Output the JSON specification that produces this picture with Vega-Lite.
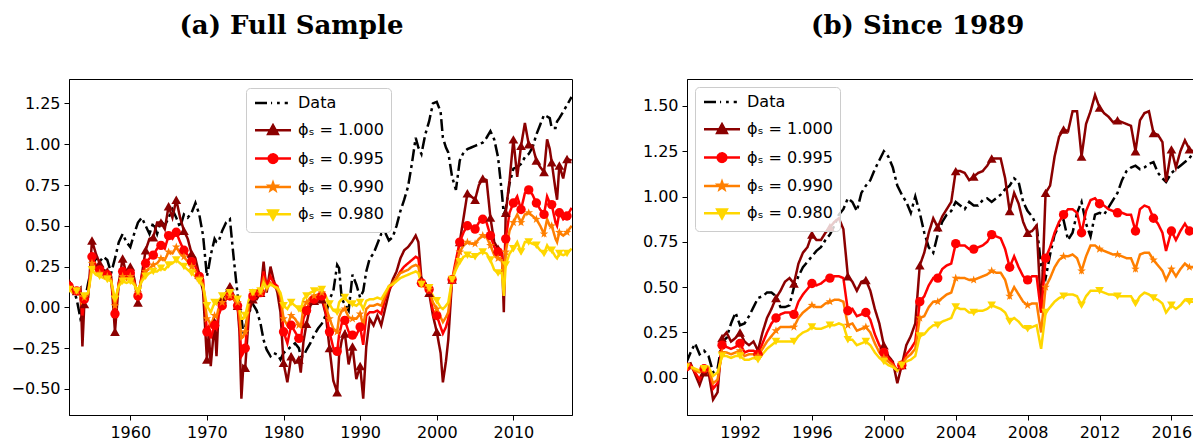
{
  "$schema": "https://vega.github.io/schema/vega-lite/v6.json",
  "padding": {"left": 10, "top": 12, "right": 0, "bottom": 0},
  "background": "white",
  "config": {
    "font": "DejaVu Sans",
    "view": {"stroke": "black", "strokeWidth": 1},
    "axis": {"labelFont": "DejaVu Sans", "labelFontSize": 16, "labelColor": "black", "tickColor": "black", "domainColor": "black", "tickSize": 5, "labelPadding": 4, "grid": false, "domainWidth": 1, "tickWidth": 1, "title": null},
    "title": {"font": "DejaVu Serif", "fontSize": 26, "fontWeight": "bold", "offset": 40, "anchor": "middle", "frame": "bounds", "color": "black"},
    "legend": {"labelFont": "DejaVu Sans", "labelFontSize": 16, "labelColor": "black", "strokeColor": "#cccccc", "fillColor": "rgba(255,255,255,0.8)", "padding": 7, "cornerRadius": 4, "symbolSize": 81, "symbolStrokeWidth": 2, "symbolOffset": 12, "labelOffset": 17, "rowPadding": 9.3, "title": null},
    "concat": {"spacing": 68}
  },
  "datasets": {
    "full": [
      {"t":1952,"d":0.16,"a":0.15,"b":0.13,"c":0.12,"e":0.11},
      {"t":1952.5,"d":0.12,"a":0.10,"b":0.09,"c":0.09,"e":0.09},
      {"t":1953,"d":0.05,"a":0.10,"b":0.10,"c":0.10,"e":0.10},
      {"t":1953.5,"d":-0.07,"a":0.12,"b":0.08,"c":0.07,"e":0.08},
      {"t":1953.75,"d":-0.05,"a":-0.24,"b":-0.05,"c":0.0,"e":0.05},
      {"t":1954,"d":0.02,"a":0.02,"b":0.05,"c":0.06,"e":0.07},
      {"t":1954.5,"d":0.15,"a":0.06,"b":0.08,"c":0.08,"e":0.09},
      {"t":1955,"d":0.25,"a":0.41,"b":0.31,"c":0.27,"e":0.23},
      {"t":1955.5,"d":0.30,"a":0.33,"b":0.26,"c":0.23,"e":0.20},
      {"t":1956,"d":0.28,"a":0.27,"b":0.23,"c":0.21,"e":0.19},
      {"t":1956.5,"d":0.31,"a":0.23,"b":0.21,"c":0.20,"e":0.18},
      {"t":1957,"d":0.29,"a":0.22,"b":0.20,"c":0.19,"e":0.17},
      {"t":1957.5,"d":0.21,"a":0.19,"b":0.17,"c":0.17,"e":0.16},
      {"t":1958,"d":0.30,"a":-0.15,"b":-0.04,"c":0.01,"e":0.05},
      {"t":1958.5,"d":0.40,"a":0.15,"b":0.15,"c":0.14,"e":0.13},
      {"t":1959,"d":0.45,"a":0.30,"b":0.22,"c":0.19,"e":0.16},
      {"t":1959.5,"d":0.40,"a":0.20,"b":0.18,"c":0.17,"e":0.15},
      {"t":1960,"d":0.37,"a":0.25,"b":0.21,"c":0.19,"e":0.16},
      {"t":1960.5,"d":0.45,"a":0.18,"b":0.16,"c":0.15,"e":0.14},
      {"t":1961,"d":0.52,"a":0.03,"b":0.07,"c":0.09,"e":0.10},
      {"t":1961.5,"d":0.55,"a":0.20,"b":0.19,"c":0.17,"e":0.16},
      {"t":1962,"d":0.50,"a":0.35,"b":0.27,"c":0.22,"e":0.19},
      {"t":1962.5,"d":0.45,"a":0.42,"b":0.30,"c":0.24,"e":0.21},
      {"t":1963,"d":0.52,"a":0.43,"b":0.32,"c":0.26,"e":0.22},
      {"t":1963.5,"d":0.45,"a":0.52,"b":0.36,"c":0.27,"e":0.22},
      {"t":1964,"d":0.53,"a":0.52,"b":0.38,"c":0.30,"e":0.24},
      {"t":1964.5,"d":0.50,"a":0.48,"b":0.36,"c":0.29,"e":0.23},
      {"t":1965,"d":0.55,"a":0.62,"b":0.44,"c":0.34,"e":0.26},
      {"t":1965.5,"d":0.60,"a":0.55,"b":0.42,"c":0.33,"e":0.27},
      {"t":1966,"d":0.55,"a":0.66,"b":0.46,"c":0.37,"e":0.29},
      {"t":1966.5,"d":0.49,"a":0.55,"b":0.40,"c":0.33,"e":0.27},
      {"t":1967,"d":0.57,"a":0.47,"b":0.35,"c":0.31,"e":0.25},
      {"t":1967.5,"d":0.55,"a":0.42,"b":0.32,"c":0.28,"e":0.23},
      {"t":1968,"d":0.58,"a":0.33,"b":0.28,"c":0.25,"e":0.21},
      {"t":1968.5,"d":0.64,"a":0.30,"b":0.25,"c":0.22,"e":0.19},
      {"t":1969,"d":0.57,"a":0.20,"b":0.19,"c":0.18,"e":0.16},
      {"t":1969.5,"d":0.44,"a":0.10,"b":0.17,"c":0.14,"e":0.13},
      {"t":1970,"d":0.19,"a":-0.32,"b":-0.15,"c":-0.07,"e":0.01},
      {"t":1970.25,"d":0.25,"a":-0.15,"b":-0.12,"c":-0.08,"e":-0.01},
      {"t":1970.5,"d":0.32,"a":-0.36,"b":-0.19,"c":-0.11,"e":-0.03},
      {"t":1971,"d":0.42,"a":-0.09,"b":-0.11,"c":-0.05,"e":0.03},
      {"t":1971.25,"d":0.40,"a":-0.30,"b":-0.13,"c":-0.06,"e":0.02},
      {"t":1971.5,"d":0.40,"a":-0.05,"b":-0.05,"c":-0.01,"e":0.04},
      {"t":1972,"d":0.47,"a":0.05,"b":0.01,"c":0.03,"e":0.07},
      {"t":1972.5,"d":0.52,"a":0.09,"b":0.05,"c":0.06,"e":0.09},
      {"t":1973,"d":0.54,"a":0.13,"b":0.07,"c":0.07,"e":0.09},
      {"t":1973.5,"d":0.30,"a":0.07,"b":0.05,"c":0.05,"e":0.07},
      {"t":1974,"d":0.08,"a":0.01,"b":0.01,"c":0.03,"e":0.05},
      {"t":1974.25,"d":0.0,"a":-0.15,"b":-0.10,"c":-0.05,"e":-0.01},
      {"t":1974.5,"d":-0.06,"a":-0.56,"b":-0.30,"c":-0.19,"e":-0.07},
      {"t":1974.75,"d":-0.16,"a":-0.36,"b":-0.28,"c":-0.18,"e":-0.07},
      {"t":1975,"d":-0.12,"a":-0.37,"b":-0.25,"c":-0.15,"e":-0.05},
      {"t":1975.5,"d":-0.03,"a":-0.03,"b":0.01,"c":0.03,"e":0.05},
      {"t":1976,"d":0.02,"a":0.05,"b":0.07,"c":0.09,"e":0.09},
      {"t":1976.5,"d":-0.02,"a":0.05,"b":0.08,"c":0.09,"e":0.10},
      {"t":1977,"d":-0.10,"a":0.09,"b":0.09,"c":0.09,"e":0.10},
      {"t":1977.4,"d":-0.20,"a":0.28,"b":0.22,"c":0.17,"e":0.15},
      {"t":1977.8,"d":-0.26,"a":0.09,"b":0.13,"c":0.11,"e":0.12},
      {"t":1978.3,"d":-0.30,"a":0.25,"b":0.19,"c":0.15,"e":0.14},
      {"t":1978.7,"d":-0.28,"a":0.17,"b":0.15,"c":0.13,"e":0.13},
      {"t":1979.2,"d":-0.29,"a":0.09,"b":0.13,"c":0.11,"e":0.12},
      {"t":1979.6,"d":-0.32,"a":-0.03,"b":0.05,"c":0.07,"e":0.09},
      {"t":1980,"d":-0.28,"a":-0.34,"b":-0.15,"c":-0.07,"e":0.01},
      {"t":1980.5,"d":-0.26,"a":-0.46,"b":-0.22,"c":-0.11,"e":-0.01},
      {"t":1981,"d":-0.24,"a":-0.30,"b":-0.11,"c":-0.05,"e":0.03},
      {"t":1981.5,"d":-0.22,"a":-0.34,"b":-0.15,"c":-0.07,"e":0.01},
      {"t":1982,"d":-0.25,"a":-0.32,"b":-0.19,"c":-0.11,"e":-0.01},
      {"t":1982.25,"d":-0.30,"a":-0.40,"b":-0.20,"c":-0.12,"e":-0.02},
      {"t":1982.6,"d":-0.30,"a":-0.21,"b":-0.07,"c":0.0,"e":0.05},
      {"t":1983,"d":-0.26,"a":-0.10,"b":-0.02,"c":0.03,"e":0.07},
      {"t":1983.5,"d":-0.22,"a":0.01,"b":0.04,"c":0.06,"e":0.09},
      {"t":1984,"d":-0.17,"a":0.04,"b":0.05,"c":0.07,"e":0.10},
      {"t":1984.5,"d":-0.13,"a":0.05,"b":0.06,"c":0.08,"e":0.11},
      {"t":1985,"d":-0.10,"a":0.05,"b":0.07,"c":0.09,"e":0.11},
      {"t":1985.5,"d":-0.05,"a":-0.04,"b":-0.03,"c":0.01,"e":0.07},
      {"t":1986,"d":0.05,"a":-0.25,"b":-0.15,"c":-0.07,"e":0.02},
      {"t":1986.5,"d":0.10,"a":-0.45,"b":-0.25,"c":-0.13,"e":-0.02},
      {"t":1987,"d":0.26,"a":-0.52,"b":-0.27,"c":-0.15,"e":-0.03},
      {"t":1987.25,"d":0.24,"a":-0.30,"b":-0.17,"c":-0.06,"e":0.03},
      {"t":1987.6,"d":0.05,"a":-0.20,"b":-0.10,"c":-0.02,"e":0.05},
      {"t":1988,"d":0.02,"a":-0.16,"b":-0.08,"c":-0.01,"e":0.06},
      {"t":1988.5,"d":-0.02,"a":-0.35,"b":-0.15,"c":-0.06,"e":0.03},
      {"t":1989,"d":0.20,"a":-0.24,"b":-0.17,"c":-0.07,"e":0.02},
      {"t":1989.5,"d":0.14,"a":-0.44,"b":-0.17,"c":-0.07,"e":0.01},
      {"t":1990,"d":0.06,"a":-0.36,"b":-0.12,"c":-0.04,"e":0.03},
      {"t":1990.4,"d":0.10,"a":-0.56,"b":-0.23,"c":-0.11,"e":-0.01},
      {"t":1990.8,"d":0.22,"a":-0.24,"b":-0.05,"c":-0.01,"e":0.04},
      {"t":1991.25,"d":0.30,"a":-0.07,"b":-0.03,"c":0.01,"e":0.05},
      {"t":1991.75,"d":0.33,"a":-0.11,"b":-0.03,"c":0.01,"e":0.05},
      {"t":1992.25,"d":0.39,"a":-0.05,"b":-0.02,"c":0.02,"e":0.06},
      {"t":1992.75,"d":0.45,"a":-0.11,"b":-0.04,"c":0.01,"e":0.05},
      {"t":1993.25,"d":0.46,"a":-0.01,"b":0.05,"c":0.07,"e":0.09},
      {"t":1993.75,"d":0.41,"a":0.09,"b":0.11,"c":0.13,"e":0.13},
      {"t":1994.25,"d":0.43,"a":0.17,"b":0.14,"c":0.15,"e":0.14},
      {"t":1994.75,"d":0.50,"a":0.22,"b":0.18,"c":0.18,"e":0.16},
      {"t":1995.25,"d":0.59,"a":0.30,"b":0.22,"c":0.21,"e":0.18},
      {"t":1995.75,"d":0.66,"a":0.35,"b":0.25,"c":0.22,"e":0.19},
      {"t":1996.25,"d":0.74,"a":0.37,"b":0.27,"c":0.23,"e":0.20},
      {"t":1996.75,"d":0.88,"a":0.40,"b":0.29,"c":0.25,"e":0.21},
      {"t":1997.25,"d":1.04,"a":0.44,"b":0.31,"c":0.26,"e":0.22},
      {"t":1997.6,"d":0.98,"a":0.40,"b":0.30,"c":0.25,"e":0.21},
      {"t":1998,"d":0.94,"a":0.17,"b":0.15,"c":0.15,"e":0.14},
      {"t":1998.5,"d":1.06,"a":0.15,"b":0.13,"c":0.12,"e":0.13},
      {"t":1999,"d":1.14,"a":0.09,"b":0.11,"c":0.11,"e":0.12},
      {"t":1999.5,"d":1.25,"a":-0.05,"b":-0.02,"c":0.03,"e":0.07},
      {"t":2000,"d":1.26,"a":-0.15,"b":-0.05,"c":-0.01,"e":0.04},
      {"t":2000.5,"d":1.20,"a":-0.28,"b":-0.12,"c":-0.06,"e":0.0},
      {"t":2000.8,"d":1.04,"a":-0.46,"b":-0.16,"c":-0.09,"e":-0.01},
      {"t":2001.2,"d":0.98,"a":-0.33,"b":-0.12,"c":-0.06,"e":0.01},
      {"t":2001.5,"d":0.95,"a":-0.20,"b":-0.07,"c":-0.03,"e":0.03},
      {"t":2002,"d":0.80,"a":0.17,"b":0.17,"c":0.17,"e":0.17},
      {"t":2002.5,"d":0.72,"a":0.25,"b":0.29,"c":0.26,"e":0.23},
      {"t":2003,"d":0.90,"a":0.40,"b":0.40,"c":0.34,"e":0.28},
      {"t":2003.5,"d":0.95,"a":0.55,"b":0.46,"c":0.38,"e":0.31},
      {"t":2004,"d":0.97,"a":0.70,"b":0.50,"c":0.40,"e":0.32},
      {"t":2004.5,"d":0.98,"a":0.68,"b":0.49,"c":0.39,"e":0.31},
      {"t":2005,"d":0.99,"a":0.66,"b":0.48,"c":0.39,"e":0.31},
      {"t":2005.5,"d":1.00,"a":0.75,"b":0.52,"c":0.42,"e":0.33},
      {"t":2006,"d":1.01,"a":0.79,"b":0.54,"c":0.44,"e":0.34},
      {"t":2006.5,"d":1.04,"a":0.78,"b":0.52,"c":0.43,"e":0.33},
      {"t":2007,"d":1.08,"a":0.55,"b":0.44,"c":0.38,"e":0.29},
      {"t":2007.5,"d":1.03,"a":0.40,"b":0.37,"c":0.32,"e":0.23},
      {"t":2008,"d":0.92,"a":0.36,"b":0.34,"c":0.30,"e":0.21},
      {"t":2008.5,"d":0.70,"a":0.33,"b":0.33,"c":0.29,"e":0.21},
      {"t":2008.75,"d":0.57,"a":-0.03,"b":0.07,"c":0.13,"e":0.07},
      {"t":2009,"d":0.60,"a":0.58,"b":0.42,"c":0.34,"e":0.26},
      {"t":2009.5,"d":0.76,"a":0.78,"b":0.58,"c":0.47,"e":0.33},
      {"t":2010,"d":0.85,"a":1.03,"b":0.64,"c":0.52,"e":0.36},
      {"t":2010.5,"d":0.86,"a":0.80,"b":0.68,"c":0.57,"e":0.40},
      {"t":2011,"d":0.88,"a":0.99,"b":0.60,"c":0.52,"e":0.34},
      {"t":2011.5,"d":0.92,"a":1.13,"b":0.70,"c":0.57,"e":0.40},
      {"t":2012,"d":0.94,"a":1.00,"b":0.72,"c":0.58,"e":0.40},
      {"t":2012.5,"d":0.98,"a":0.99,"b":0.69,"c":0.56,"e":0.39},
      {"t":2013,"d":1.06,"a":0.90,"b":0.64,"c":0.54,"e":0.38},
      {"t":2013.5,"d":1.12,"a":0.86,"b":0.60,"c":0.50,"e":0.35},
      {"t":2014,"d":1.18,"a":0.83,"b":0.57,"c":0.45,"e":0.33},
      {"t":2014.4,"d":1.17,"a":1.03,"b":0.68,"c":0.54,"e":0.38},
      {"t":2014.75,"d":1.16,"a":0.97,"b":0.64,"c":0.50,"e":0.35},
      {"t":2015,"d":1.10,"a":0.89,"b":0.63,"c":0.50,"e":0.35},
      {"t":2015.5,"d":1.10,"a":0.72,"b":0.52,"c":0.42,"e":0.31},
      {"t":2015.7,"d":1.14,"a":0.66,"b":0.50,"c":0.40,"e":0.30},
      {"t":2016,"d":1.16,"a":0.87,"b":0.58,"c":0.46,"e":0.33},
      {"t":2016.5,"d":1.20,"a":0.79,"b":0.54,"c":0.44,"e":0.32},
      {"t":2017,"d":1.24,"a":0.91,"b":0.56,"c":0.46,"e":0.33},
      {"t":2017.6,"d":1.29,"a":0.90,"b":0.61,"c":0.50,"e":0.36}
    ],
    "since": [
      {"t":1989,"d":0.08,"a":0.07,"b":0.06,"c":0.06,"e":0.06},
      {"t":1989.25,"d":0.14,"a":0.08,"b":0.07,"c":0.06,"e":0.06},
      {"t":1989.5,"d":0.19,"a":0.02,"b":0.03,"c":0.04,"e":0.05},
      {"t":1989.75,"d":0.13,"a":-0.04,"b":-0.01,"c":0.03,"e":0.04},
      {"t":1990,"d":0.15,"a":0.03,"b":0.05,"c":0.05,"e":0.05},
      {"t":1990.25,"d":0.12,"a":0.03,"b":0.05,"c":0.05,"e":0.06},
      {"t":1990.5,"d":0.03,"a":-0.12,"b":-0.06,"c":-0.03,"e":0.01},
      {"t":1990.75,"d":0.05,"a":-0.08,"b":-0.03,"c":-0.01,"e":0.03},
      {"t":1991,"d":0.20,"a":0.22,"b":0.18,"c":0.14,"e":0.12},
      {"t":1991.25,"d":0.22,"a":0.25,"b":0.17,"c":0.14,"e":0.12},
      {"t":1991.5,"d":0.30,"a":0.20,"b":0.16,"c":0.13,"e":0.11},
      {"t":1991.75,"d":0.36,"a":0.22,"b":0.17,"c":0.14,"e":0.12},
      {"t":1992,"d":0.29,"a":0.25,"b":0.19,"c":0.15,"e":0.12},
      {"t":1992.25,"d":0.30,"a":0.20,"b":0.14,"c":0.12,"e":0.10},
      {"t":1992.5,"d":0.34,"a":0.18,"b":0.15,"c":0.13,"e":0.10},
      {"t":1992.75,"d":0.39,"a":0.20,"b":0.15,"c":0.13,"e":0.11},
      {"t":1993,"d":0.44,"a":0.15,"b":0.13,"c":0.12,"e":0.10},
      {"t":1993.25,"d":0.45,"a":0.25,"b":0.19,"c":0.16,"e":0.13},
      {"t":1993.5,"d":0.47,"a":0.33,"b":0.25,"c":0.20,"e":0.16},
      {"t":1993.75,"d":0.47,"a":0.38,"b":0.30,"c":0.23,"e":0.18},
      {"t":1994,"d":0.45,"a":0.44,"b":0.33,"c":0.26,"e":0.20},
      {"t":1994.25,"d":0.39,"a":0.48,"b":0.35,"c":0.28,"e":0.20},
      {"t":1994.5,"d":0.39,"a":0.53,"b":0.36,"c":0.28,"e":0.20},
      {"t":1994.75,"d":0.40,"a":0.55,"b":0.36,"c":0.28,"e":0.20},
      {"t":1995,"d":0.50,"a":0.52,"b":0.35,"c":0.28,"e":0.20},
      {"t":1995.25,"d":0.56,"a":0.63,"b":0.42,"c":0.33,"e":0.23},
      {"t":1995.5,"d":0.61,"a":0.69,"b":0.46,"c":0.36,"e":0.25},
      {"t":1995.75,"d":0.64,"a":0.72,"b":0.49,"c":0.38,"e":0.26},
      {"t":1996,"d":0.67,"a":0.79,"b":0.52,"c":0.40,"e":0.28},
      {"t":1996.25,"d":0.70,"a":0.76,"b":0.51,"c":0.39,"e":0.27},
      {"t":1996.5,"d":0.72,"a":0.76,"b":0.52,"c":0.39,"e":0.27},
      {"t":1996.75,"d":0.76,"a":0.80,"b":0.54,"c":0.41,"e":0.28},
      {"t":1997,"d":0.79,"a":0.83,"b":0.55,"c":0.42,"e":0.29},
      {"t":1997.25,"d":0.84,"a":0.86,"b":0.56,"c":0.43,"e":0.29},
      {"t":1997.5,"d":0.90,"a":0.88,"b":0.56,"c":0.43,"e":0.30},
      {"t":1997.75,"d":0.93,"a":0.82,"b":0.55,"c":0.42,"e":0.29},
      {"t":1998,"d":0.99,"a":0.56,"b":0.37,"c":0.29,"e":0.21},
      {"t":1998.25,"d":0.97,"a":0.53,"b":0.38,"c":0.30,"e":0.21},
      {"t":1998.5,"d":0.92,"a":0.48,"b":0.34,"c":0.26,"e":0.18},
      {"t":1998.75,"d":1.02,"a":0.53,"b":0.35,"c":0.27,"e":0.19},
      {"t":1999,"d":1.06,"a":0.54,"b":0.36,"c":0.28,"e":0.20},
      {"t":1999.25,"d":1.09,"a":0.48,"b":0.32,"c":0.25,"e":0.18},
      {"t":1999.5,"d":1.15,"a":0.38,"b":0.24,"c":0.19,"e":0.14},
      {"t":1999.75,"d":1.20,"a":0.30,"b":0.18,"c":0.14,"e":0.11},
      {"t":2000,"d":1.25,"a":0.18,"b":0.14,"c":0.11,"e":0.09},
      {"t":2000.25,"d":1.22,"a":0.12,"b":0.11,"c":0.09,"e":0.07},
      {"t":2000.5,"d":1.16,"a":0.09,"b":0.08,"c":0.07,"e":0.06},
      {"t":2000.75,"d":1.06,"a":-0.03,"b":0.04,"c":0.04,"e":0.04},
      {"t":2001,"d":1.01,"a":0.07,"b":0.07,"c":0.07,"e":0.07},
      {"t":2001.25,"d":0.97,"a":0.18,"b":0.13,"c":0.11,"e":0.09},
      {"t":2001.5,"d":0.91,"a":0.23,"b":0.16,"c":0.13,"e":0.10},
      {"t":2001.75,"d":1.00,"a":0.30,"b":0.20,"c":0.16,"e":0.12},
      {"t":2002,"d":0.91,"a":0.62,"b":0.42,"c":0.33,"e":0.23},
      {"t":2002.25,"d":0.80,"a":0.69,"b":0.45,"c":0.34,"e":0.24},
      {"t":2002.5,"d":0.72,"a":0.80,"b":0.51,"c":0.39,"e":0.27},
      {"t":2002.75,"d":0.69,"a":0.88,"b":0.55,"c":0.42,"e":0.29},
      {"t":2003,"d":0.79,"a":0.83,"b":0.55,"c":0.42,"e":0.29},
      {"t":2003.25,"d":0.86,"a":0.89,"b":0.60,"c":0.44,"e":0.31},
      {"t":2003.5,"d":0.90,"a":0.93,"b":0.62,"c":0.46,"e":0.32},
      {"t":2003.75,"d":0.92,"a":0.97,"b":0.63,"c":0.47,"e":0.33},
      {"t":2004,"d":0.97,"a":1.14,"b":0.74,"c":0.55,"e":0.39},
      {"t":2004.25,"d":0.95,"a":1.14,"b":0.73,"c":0.55,"e":0.38},
      {"t":2004.5,"d":0.93,"a":1.13,"b":0.73,"c":0.55,"e":0.38},
      {"t":2004.75,"d":0.97,"a":1.09,"b":0.71,"c":0.54,"e":0.36},
      {"t":2005,"d":0.95,"a":1.11,"b":0.71,"c":0.54,"e":0.36},
      {"t":2005.25,"d":0.95,"a":1.13,"b":0.72,"c":0.55,"e":0.37},
      {"t":2005.5,"d":0.98,"a":1.14,"b":0.73,"c":0.56,"e":0.37},
      {"t":2005.75,"d":0.99,"a":1.17,"b":0.75,"c":0.57,"e":0.38},
      {"t":2006,"d":0.97,"a":1.21,"b":0.79,"c":0.59,"e":0.40},
      {"t":2006.25,"d":0.99,"a":1.21,"b":0.78,"c":0.58,"e":0.39},
      {"t":2006.5,"d":1.01,"a":1.21,"b":0.77,"c":0.58,"e":0.38},
      {"t":2006.75,"d":1.04,"a":1.10,"b":0.71,"c":0.54,"e":0.36},
      {"t":2007,"d":1.06,"a":0.92,"b":0.61,"c":0.45,"e":0.31},
      {"t":2007.25,"d":1.10,"a":1.02,"b":0.67,"c":0.50,"e":0.33},
      {"t":2007.5,"d":1.08,"a":0.96,"b":0.61,"c":0.46,"e":0.31},
      {"t":2007.75,"d":0.97,"a":0.86,"b":0.56,"c":0.42,"e":0.28},
      {"t":2008,"d":0.92,"a":0.80,"b":0.54,"c":0.40,"e":0.27},
      {"t":2008.25,"d":0.89,"a":0.81,"b":0.56,"c":0.41,"e":0.28},
      {"t":2008.5,"d":0.84,"a":0.84,"b":0.56,"c":0.41,"e":0.29},
      {"t":2008.75,"d":0.62,"a":0.36,"b":0.36,"c":0.25,"e":0.16},
      {"t":2009,"d":0.55,"a":1.02,"b":0.66,"c":0.50,"e":0.36},
      {"t":2009.25,"d":0.68,"a":1.06,"b":0.72,"c":0.55,"e":0.39},
      {"t":2009.5,"d":0.79,"a":1.22,"b":0.80,"c":0.61,"e":0.42},
      {"t":2009.75,"d":0.84,"a":1.33,"b":0.86,"c":0.65,"e":0.44},
      {"t":2010,"d":0.87,"a":1.37,"b":0.90,"c":0.67,"e":0.45},
      {"t":2010.25,"d":0.76,"a":1.36,"b":0.93,"c":0.67,"e":0.46},
      {"t":2010.5,"d":0.80,"a":1.47,"b":0.93,"c":0.68,"e":0.46},
      {"t":2010.75,"d":0.91,"a":1.47,"b":0.91,"c":0.66,"e":0.45},
      {"t":2011,"d":0.97,"a":1.22,"b":0.80,"c":0.59,"e":0.40},
      {"t":2011.25,"d":0.85,"a":1.40,"b":0.92,"c":0.67,"e":0.45},
      {"t":2011.5,"d":0.78,"a":1.47,"b":0.98,"c":0.73,"e":0.48},
      {"t":2011.75,"d":0.90,"a":1.56,"b":0.99,"c":0.73,"e":0.48},
      {"t":2012,"d":0.91,"a":1.49,"b":0.96,"c":0.71,"e":0.48},
      {"t":2012.25,"d":0.90,"a":1.46,"b":0.95,"c":0.70,"e":0.47},
      {"t":2012.5,"d":0.94,"a":1.44,"b":0.93,"c":0.69,"e":0.46},
      {"t":2012.75,"d":0.98,"a":1.41,"b":0.92,"c":0.68,"e":0.46},
      {"t":2013,"d":1.02,"a":1.42,"b":0.91,"c":0.68,"e":0.45},
      {"t":2013.25,"d":1.09,"a":1.41,"b":0.91,"c":0.67,"e":0.45},
      {"t":2013.5,"d":1.14,"a":1.40,"b":0.90,"c":0.66,"e":0.45},
      {"t":2013.75,"d":1.16,"a":1.39,"b":0.90,"c":0.66,"e":0.45},
      {"t":2014,"d":1.17,"a":1.25,"b":0.81,"c":0.60,"e":0.41},
      {"t":2014.25,"d":1.15,"a":1.42,"b":0.93,"c":0.68,"e":0.45},
      {"t":2014.5,"d":1.16,"a":1.46,"b":0.95,"c":0.69,"e":0.47},
      {"t":2014.75,"d":1.18,"a":1.47,"b":0.94,"c":0.69,"e":0.46},
      {"t":2015,"d":1.19,"a":1.35,"b":0.88,"c":0.65,"e":0.44},
      {"t":2015.25,"d":1.13,"a":1.34,"b":0.85,"c":0.62,"e":0.43},
      {"t":2015.5,"d":1.10,"a":1.30,"b":0.80,"c":0.59,"e":0.41},
      {"t":2015.7,"d":1.08,"a":1.08,"b":0.70,"c":0.54,"e":0.36},
      {"t":2016,"d":1.13,"a":1.26,"b":0.81,"c":0.60,"e":0.40},
      {"t":2016.25,"d":1.15,"a":1.16,"b":0.76,"c":0.56,"e":0.38},
      {"t":2016.5,"d":1.17,"a":1.25,"b":0.81,"c":0.60,"e":0.40},
      {"t":2016.75,"d":1.19,"a":1.31,"b":0.85,"c":0.63,"e":0.43},
      {"t":2017,"d":1.21,"a":1.26,"b":0.81,"c":0.61,"e":0.42},
      {"t":2017.2,"d":1.24,"a":1.25,"b":0.81,"c":0.61,"e":0.42}
    ]
  },
  "resolve": {"scale": {"color": "independent", "x": "independent", "y": "independent", "shape": "independent", "size": "independent", "strokeDash": "independent"}, "legend": {"color": "independent"}},
  "hconcat": [
    {
      "title": {"text": "(a) Full Sample"},
      "width": 503,
      "height": 336,
      "data": {"name": "full"},
      "transform": [{"fold": ["d", "a", "b", "c", "e"], "as": ["s", "v"]}],
      "encoding": {
        "x": {"field": "t", "type": "quantitative", "scale": {"domain": [1952.0, 2017.65], "nice": false, "zero": false}, "axis": {"values": [1960, 1970, 1980, 1990, 2000, 2010], "format": "d"}},
        "y": {"field": "v", "type": "quantitative", "scale": {"domain": [-0.66, 1.40], "nice": false, "zero": false}, "axis": {"values": [-0.5, -0.25, 0, 0.25, 0.5, 0.75, 1, 1.25], "format": ".2f"}},
        "color": {
          "field": "s", "type": "nominal",
          "scale": {"domain": ["d", "a", "b", "c", "e"], "range": ["#000000", "#8b0000", "#ff0000", "#ff7f00", "#ffd700"]},
          "legend": {
            "orient": "none", "legendX": 177, "legendY": 9,
            "labelExpr": "datum.value === 'd' ? 'Data' : datum.value === 'a' ? 'ϕₛ = 1.000' : datum.value === 'b' ? 'ϕₛ = 0.995' : datum.value === 'c' ? 'ϕₛ = 0.990' : 'ϕₛ = 0.980'",
            "encode": {"symbols": {"update": {
              "shape": {"signal": "datum.value === 'd' ? 'M-4,0H-0.2M0.9,0H1.5M2.6,0H3.3' : datum.value === 'a' ? 'M-4,0H4M0,-1.1L1.05,0.8L-1.05,0.8Z' : datum.value === 'b' ? 'M-4,0H4M0.95,0A0.95,0.95,0,1,1,-0.95,0A0.95,0.95,0,1,1,0.95,0Z' : datum.value === 'c' ? 'M-4,0H4M0,-0.85L0.2,-0.275L0.808,-0.263L0.323,0.105L0.5,0.688L0,0.34L-0.5,0.688L-0.323,0.105L-0.808,-0.263L-0.2,-0.275Z' : 'M-4,0H4M0,1.1L1.05,-0.8L-1.05,-0.8Z'"},
              "fill": {"signal": "datum.value === 'd' ? 'transparent' : datum.value === 'a' ? '#8b0000' : datum.value === 'b' ? '#ff0000' : datum.value === 'c' ? '#ff7f00' : '#ffd700'"},
              "stroke": {"signal": "datum.value === 'd' ? '#000000' : datum.value === 'a' ? '#8b0000' : datum.value === 'b' ? '#ff0000' : datum.value === 'c' ? '#ff7f00' : '#ffd700'"},
              "strokeWidth": {"value": 2.5},
              "opacity": {"value": 1}
            }}}
          }
        }
      },
      "layer": [
        {
          "mark": {"type": "line", "strokeWidth": 2.5, "clip": true},
          "encoding": {"strokeDash": {"field": "s", "type": "nominal", "scale": {"domain": ["d", "a", "b", "c", "e"], "range": [[12, 4, 3, 4], [1, 0], [1, 0], [1, 0], [1, 0]]}, "legend": null}}
        },
        {
          "transform": [{"filter": "datum.s !== 'd' && datum.t % 1 === 0"}],
          "mark": {"type": "point", "filled": true, "opacity": 1, "clip": true},
          "encoding": {
            "shape": {"field": "s", "type": "nominal", "scale": {"domain": ["a", "b", "c", "e"], "range": ["triangle-up", "circle", "M0,-1L0.235,-0.324L0.951,-0.309L0.38,0.124L0.588,0.809L0,0.4L-0.588,0.809L-0.38,0.124L-0.951,-0.309L-0.235,-0.324Z", "triangle-down"]}, "legend": null},
            "size": {"field": "s", "type": "nominal", "scale": {"domain": ["a", "b", "c", "e"], "range": [95, 75, 70, 95]}, "legend": null}
          }
        }
      ]
    },
    {
      "title": {"text": "(b) Since 1989"},
      "width": 506,
      "height": 336,
      "data": {"name": "since"},
      "transform": [{"fold": ["d", "a", "b", "c", "e"], "as": ["s", "v"]}],
      "encoding": {
        "x": {"field": "t", "type": "quantitative", "scale": {"domain": [1989.05, 2017.2], "nice": false, "zero": false}, "axis": {"values": [1992, 1996, 2000, 2004, 2008, 2012, 2016], "format": "d"}},
        "y": {"field": "v", "type": "quantitative", "scale": {"domain": [-0.205, 1.648], "nice": false, "zero": false}, "axis": {"values": [0, 0.25, 0.5, 0.75, 1, 1.25, 1.5], "format": ".2f"}},
        "color": {
          "field": "s", "type": "nominal",
          "scale": {"domain": ["d", "a", "b", "c", "e"], "range": ["#000000", "#8b0000", "#ff0000", "#ff7f00", "#ffd700"]},
          "legend": {
            "orient": "none", "legendX": 8, "legendY": 8,
            "labelExpr": "datum.value === 'd' ? 'Data' : datum.value === 'a' ? 'ϕₛ = 1.000' : datum.value === 'b' ? 'ϕₛ = 0.995' : datum.value === 'c' ? 'ϕₛ = 0.990' : 'ϕₛ = 0.980'",
            "encode": {"symbols": {"update": {
              "shape": {"signal": "datum.value === 'd' ? 'M-4,0H-0.2M0.9,0H1.5M2.6,0H3.3' : datum.value === 'a' ? 'M-4,0H4M0,-1.1L1.05,0.8L-1.05,0.8Z' : datum.value === 'b' ? 'M-4,0H4M0.95,0A0.95,0.95,0,1,1,-0.95,0A0.95,0.95,0,1,1,0.95,0Z' : datum.value === 'c' ? 'M-4,0H4M0,-0.85L0.2,-0.275L0.808,-0.263L0.323,0.105L0.5,0.688L0,0.34L-0.5,0.688L-0.323,0.105L-0.808,-0.263L-0.2,-0.275Z' : 'M-4,0H4M0,1.1L1.05,-0.8L-1.05,-0.8Z'"},
              "fill": {"signal": "datum.value === 'd' ? 'transparent' : datum.value === 'a' ? '#8b0000' : datum.value === 'b' ? '#ff0000' : datum.value === 'c' ? '#ff7f00' : '#ffd700'"},
              "stroke": {"signal": "datum.value === 'd' ? '#000000' : datum.value === 'a' ? '#8b0000' : datum.value === 'b' ? '#ff0000' : datum.value === 'c' ? '#ff7f00' : '#ffd700'"},
              "strokeWidth": {"value": 2.5},
              "opacity": {"value": 1}
            }}}
          }
        }
      },
      "layer": [
        {
          "mark": {"type": "line", "strokeWidth": 2.5, "clip": true},
          "encoding": {"strokeDash": {"field": "s", "type": "nominal", "scale": {"domain": ["d", "a", "b", "c", "e"], "range": [[12, 4, 3, 4], [1, 0], [1, 0], [1, 0], [1, 0]]}, "legend": null}}
        },
        {
          "transform": [{"filter": "datum.s !== 'd' && datum.t % 1 === 0"}],
          "mark": {"type": "point", "filled": true, "opacity": 1, "clip": true},
          "encoding": {
            "shape": {"field": "s", "type": "nominal", "scale": {"domain": ["a", "b", "c", "e"], "range": ["triangle-up", "circle", "M0,-1L0.235,-0.324L0.951,-0.309L0.38,0.124L0.588,0.809L0,0.4L-0.588,0.809L-0.38,0.124L-0.951,-0.309L-0.235,-0.324Z", "triangle-down"]}, "legend": null},
            "size": {"field": "s", "type": "nominal", "scale": {"domain": ["a", "b", "c", "e"], "range": [95, 75, 70, 95]}, "legend": null}
          }
        }
      ]
    }
  ]
}
